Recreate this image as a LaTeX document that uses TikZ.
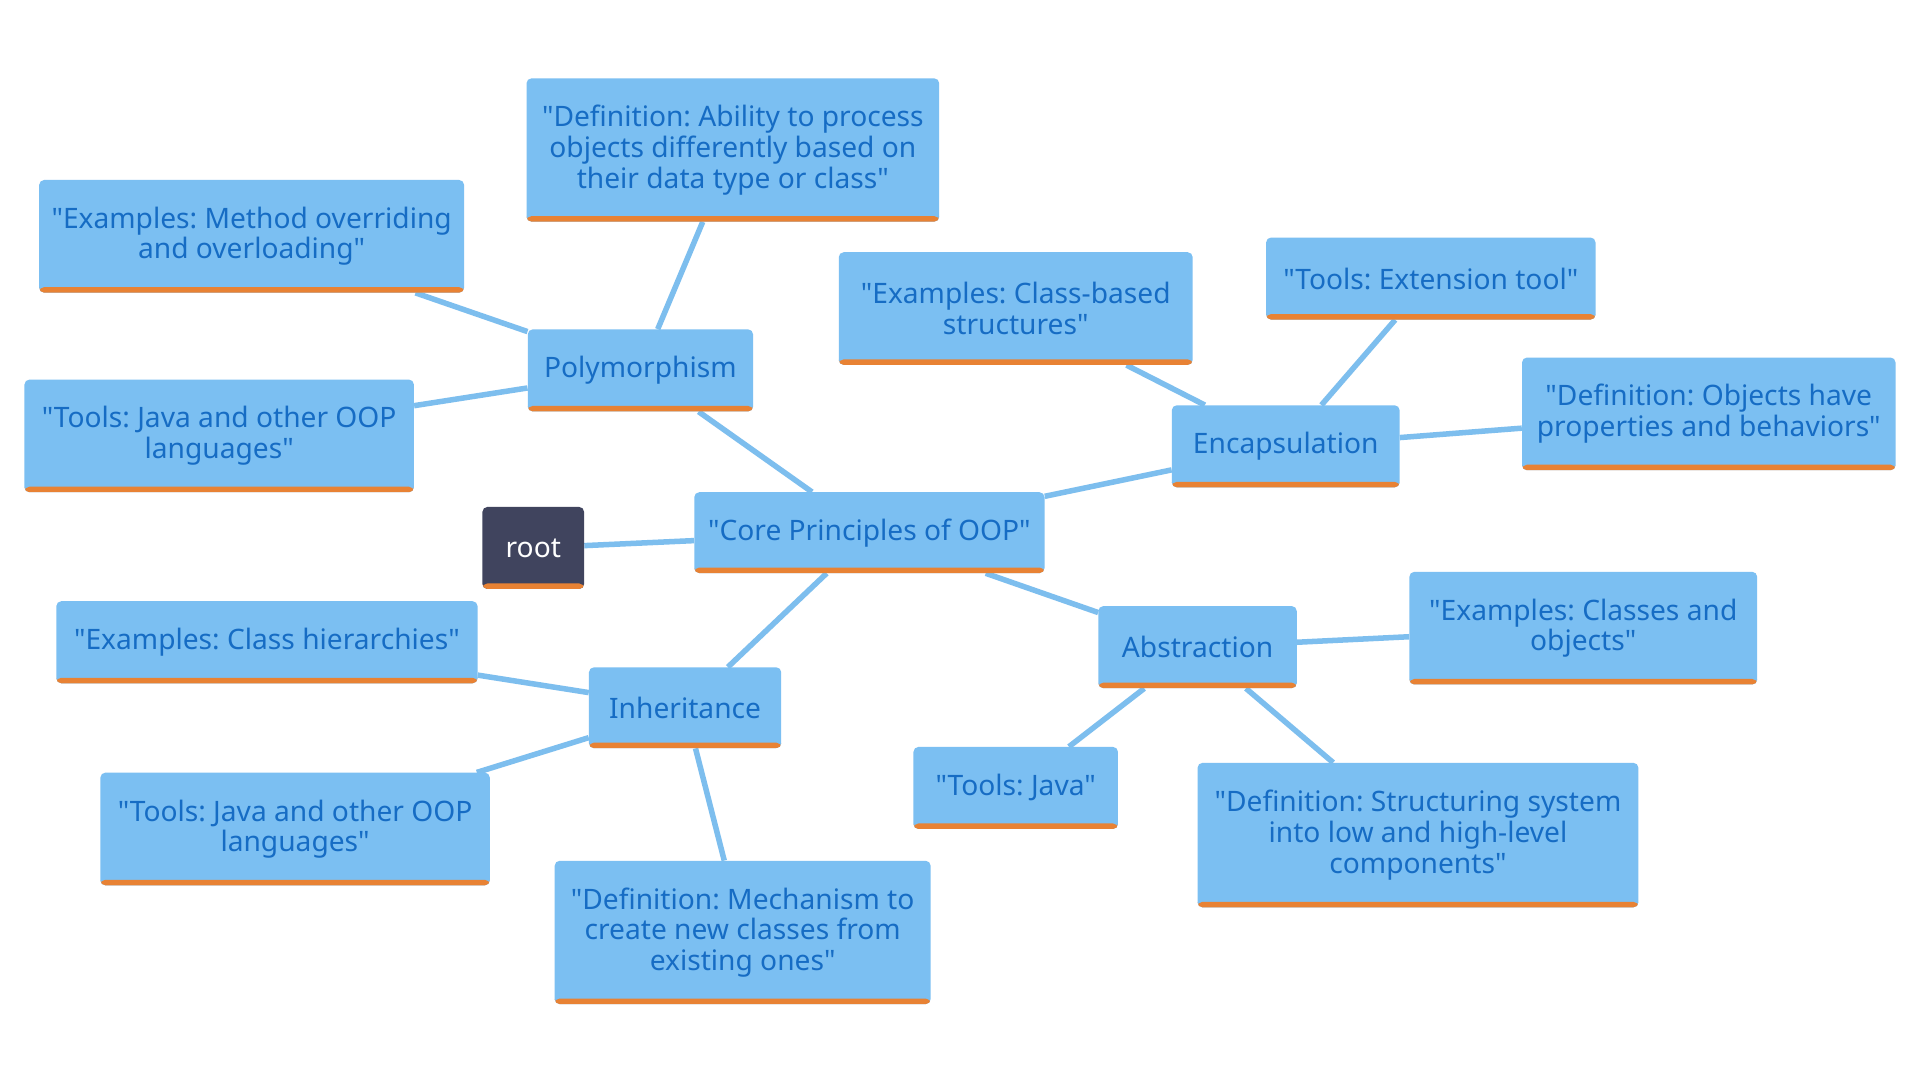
\documentclass[tikz,border=0pt]{standalone}
\usepackage{fontspec}
\setmainfont{Noto Sans}[Ligatures=TeXOff]
\usetikzlibrary{backgrounds}
\definecolor{boxblue}{RGB}{123,191,242}
\definecolor{edgeblue}{RGB}{125,190,238}
\definecolor{txtblue}{RGB}{22,108,196}
\definecolor{barorange}{RGB}{232,130,52}
\definecolor{rootfill}{RGB}{64,68,94}
\tikzset{
  box/.style={rectangle, fill=boxblue, rounded corners=4pt, inner sep=0pt,
    align=center, text=txtblue, font=\fontsize{23}{25}\selectfont,
    path picture={\fill[barorange] (path picture bounding box.south west) rectangle ([yshift=4.5pt]path picture bounding box.south east);}},
  rootbox/.style={box, fill=rootfill, text=white},
  edge/.style={draw=edgeblue, line width=4.5pt}
}
% \boxnode[style]{name}{x1}{y1}{x2}{y2}{text}
\newcommand\boxnode[7][box]{%
  \node[#1, minimum width={#5pt-#3pt}, minimum height={#6pt-#4pt}]
    (#2) at ({(#3+#5)/2},{(#4+#6)/2}) {#7};}
\frenchspacing
\begin{document}
\begin{tikzpicture}[x=1pt,y=-1pt]
\begin{scope}[on background layer]
  \fill[white] (0,0) rectangle (1568,882);
\end{scope}
\useasboundingbox (0,0) rectangle (1568,882);

\boxnode{defpoly}{430}{64}{767}{181}{"Definition: Ability to process\\objects differently based on\\their data type or class"}
\boxnode{expoly}{32}{147}{379}{239}{"Examples: Method overriding\\and overloading"}
\boxnode{poly}{431}{269}{615}{336}{Polymorphism}
\boxnode{toolspoly}{20}{310}{338}{402}{"Tools: Java and other OOP\\languages"}
\boxnode[rootbox]{root}{394}{414}{477}{481}{root}
\boxnode{core}{567}{402}{853}{468}{"Core Principles of OOP"}
\boxnode{exenc}{685}{206}{974}{298}{"Examples: Class-based\\structures"}
\boxnode{toolsenc}{1034}{194}{1303}{261}{"Tools: Extension tool"}
\boxnode{enc}{957}{331}{1143}{398}{Encapsulation}
\boxnode{defenc}{1243}{292}{1548}{384}{"Definition: Objects have\\properties and behaviors"}
\boxnode{exabs}{1151}{467}{1435}{559}{"Examples: Classes and\\objects"}
\boxnode{abs}{897}{495}{1059}{562}{Abstraction}
\boxnode{toolsabs}{746}{610}{913}{677}{"Tools: Java"}
\boxnode{defabs}{978}{623}{1338}{741}{"Definition: Structuring system\\into low and high-level\\components"}
\boxnode{exinh}{46}{491}{390}{558}{"Examples: Class hierarchies"}
\boxnode{inh}{481}{545}{638}{611}{Inheritance}
\boxnode{toolsinh}{82}{631}{400}{723}{"Tools: Java and other OOP\\languages"}
\boxnode{definh}{453}{703}{760}{820}{"Definition: Mechanism to\\create new classes from\\existing ones"}

\begin{scope}[on background layer]
  \draw[edge] (root) -- (core);
  \draw[edge] (core) -- (poly);
  \draw[edge] (poly) -- (defpoly);
  \draw[edge] (poly) -- (expoly);
  \draw[edge] (poly) -- (toolspoly);
  \draw[edge] (core) -- (enc);
  \draw[edge] (enc) -- (exenc);
  \draw[edge] (enc) -- (toolsenc);
  \draw[edge] (enc) -- (defenc);
  \draw[edge] (core) -- (abs);
  \draw[edge] (abs) -- (exabs);
  \draw[edge] (abs) -- (toolsabs);
  \draw[edge] (abs) -- (defabs);
  \draw[edge] (core) -- (inh);
  \draw[edge] (inh) -- (exinh);
  \draw[edge] (inh) -- (toolsinh);
  \draw[edge] (inh) -- (definh);
\end{scope}
\end{tikzpicture}
\end{document}
